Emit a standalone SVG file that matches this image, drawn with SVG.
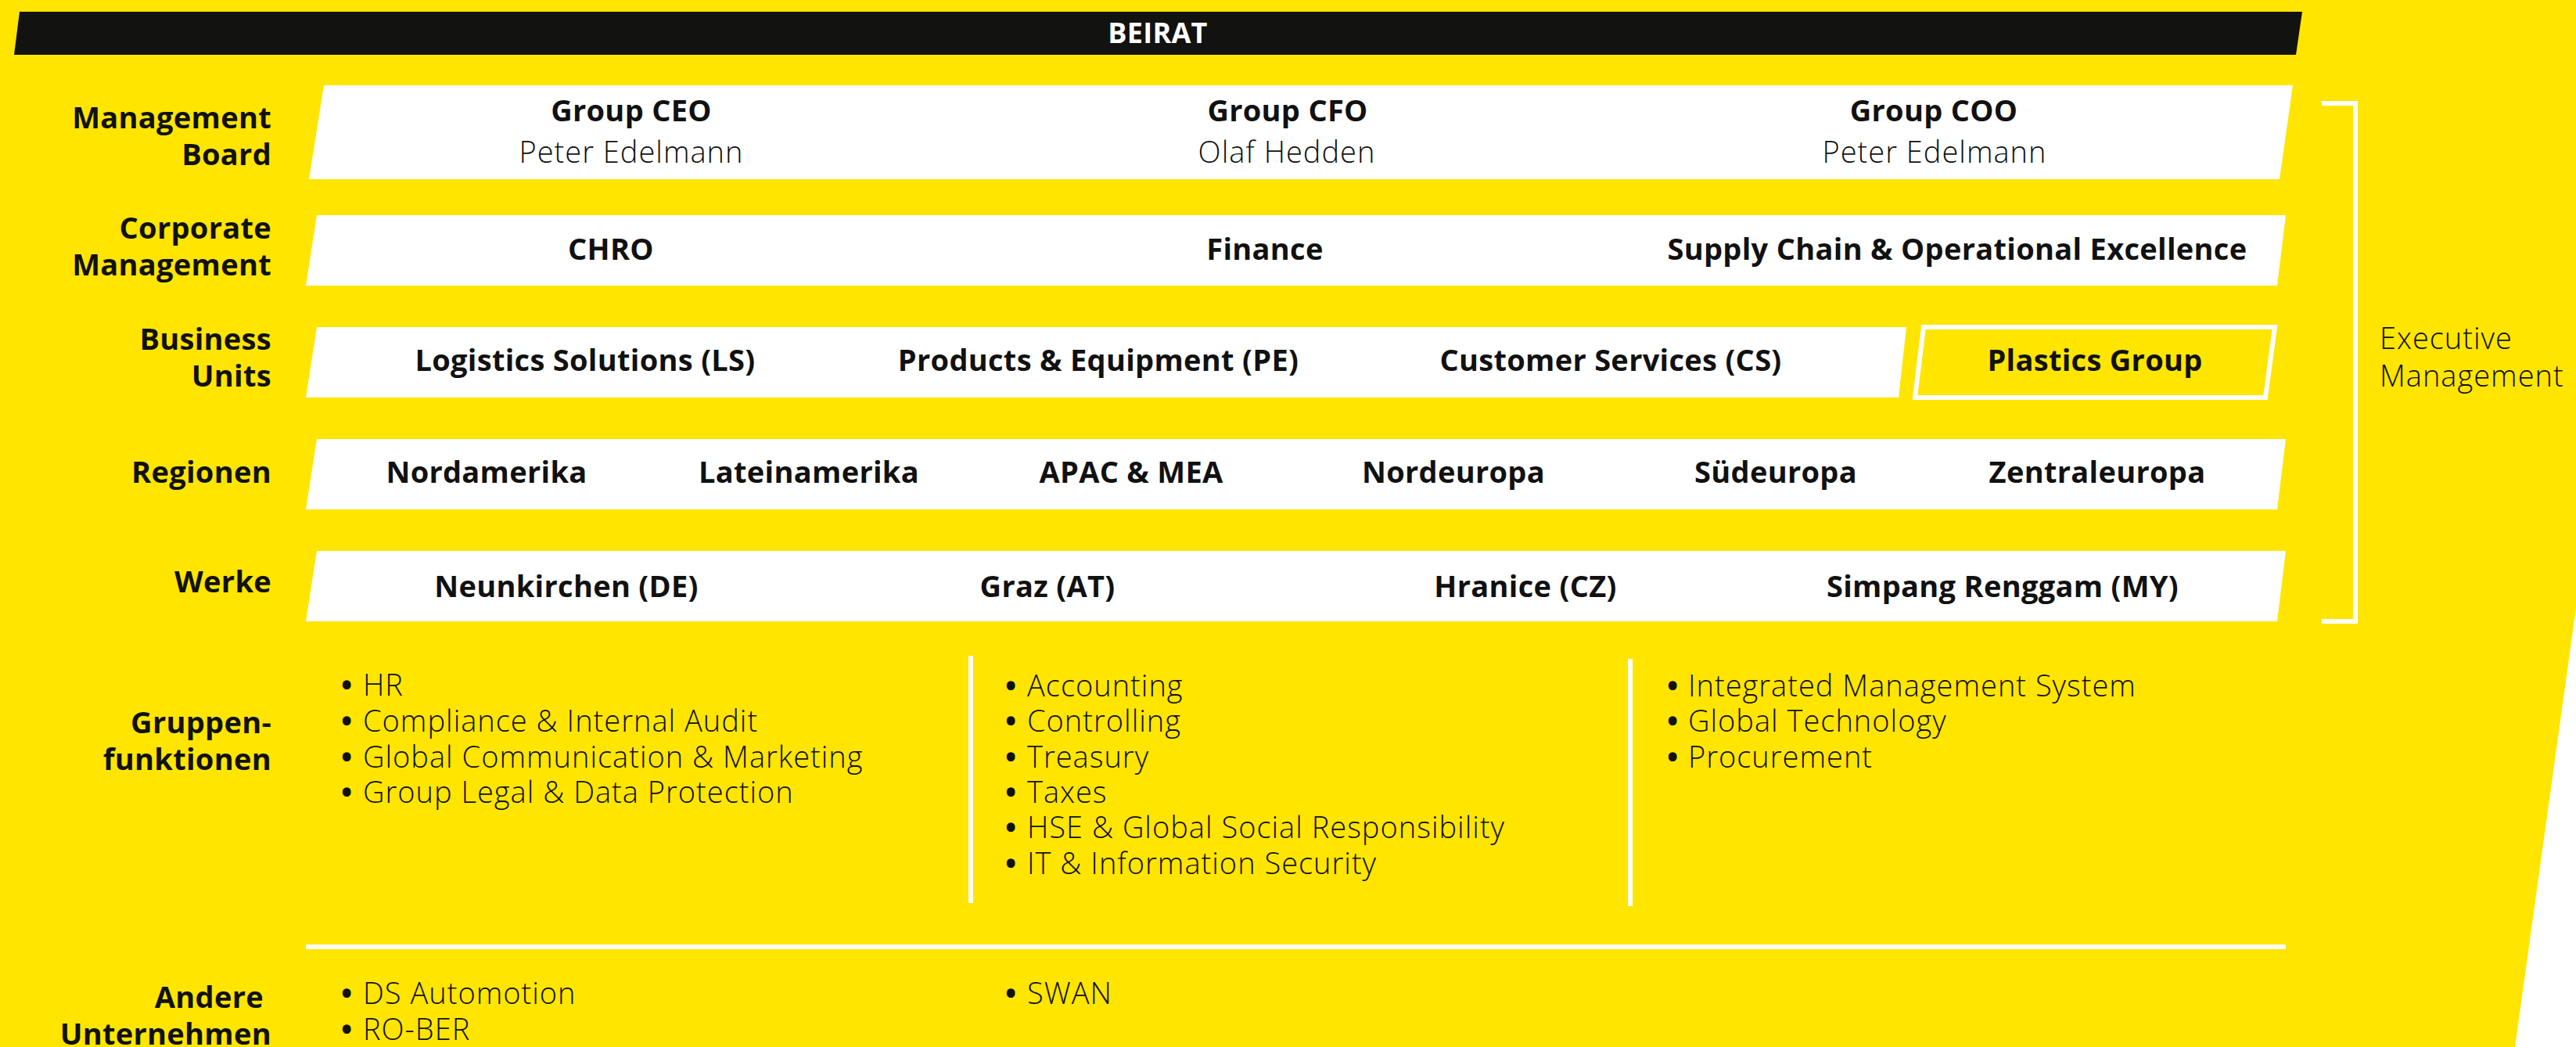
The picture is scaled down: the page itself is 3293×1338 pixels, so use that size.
<svg xmlns="http://www.w3.org/2000/svg" width="3293" height="1338" viewBox="0 0 3293 1338">
<style>
.bg{fill:#FFE500}
.box{fill:#fff}
.t{font-family:"Open Sans","Liberation Sans",sans-serif;font-size:38px;fill:#111}
.b{font-weight:700;letter-spacing:0.3px}
.l{font-weight:300;font-size:38px;letter-spacing:1px}
.d{font-weight:700;letter-spacing:0}
.end{text-anchor:end}
.mid{text-anchor:middle}
.ln{stroke:#fff;stroke-width:6;fill:none}
</style>
<rect x="0" y="0" width="3293" height="1338" fill="#fff"/>
<polygon class="bg" points="0,0 3293,0 3293,777 3215,1338 0,1338"/>

<g id="beirat">
<polygon points="25,15 2943,15 2935,70 18,70" fill="#121210"/>
<text class="t b mid" x="1480" y="55" style="fill:#fff;font-size:36px">BEIRAT</text>
</g>

<g id="row-labels">
<text class="t b end" x="347" y="164">Management</text>
<text class="t b end" x="347" y="211">Board</text>
<text class="t b end" x="347" y="305">Corporate</text>
<text class="t b end" x="347" y="352">Management</text>
<text class="t b end" x="347" y="447">Business</text>
<text class="t b end" x="347" y="494">Units</text>
<text class="t b end" x="347" y="617">Regionen</text>
<text class="t b end" x="347" y="757">Werke</text>
<text class="t b end" x="347" y="937">Gruppen-</text>
<text class="t b end" x="347" y="984">funktionen</text>
<text class="t b end" x="337" y="1288">Andere</text>
<text class="t b end" x="347" y="1335">Unternehmen</text>
</g>

<g id="management-board">
<polygon class="box" points="414,109 2931,109 2914,229 395,229"/>
<text class="t b mid" x="807" y="155">Group CEO</text>
<text class="t l mid" x="807" y="208">Peter Edelmann</text>
<text class="t b mid" x="1646" y="155">Group CFO</text>
<text class="t l mid" x="1645" y="208">Olaf Hedden</text>
<text class="t b mid" x="2472" y="155">Group COO</text>
<text class="t l mid" x="2473" y="208">Peter Edelmann</text>
</g>

<g id="corporate-management">
<polygon class="box" points="405,275 2922,275 2911,365 391,365"/>
<text class="t b mid" x="781" y="332">CHRO</text>
<text class="t b mid" x="1617" y="332">Finance</text>
<text class="t b mid" x="2502" y="332">Supply Chain &amp; Operational Excellence</text>
</g>

<g id="business-units">
<polygon class="box" points="405,418 2437,418 2427,508 391,508"/>
<text class="t b mid" x="748" y="474">Logistics Solutions (LS)</text>
<text class="t b mid" x="1404" y="474">Products &amp; Equipment (PE)</text>
<text class="t b mid" x="2059" y="474">Customer Services (CS)</text>
</g>

<g id="plastics-group">
<polygon points="2459,418 2908,418 2896,508 2448,508" fill="#FFE500" stroke="#fff" stroke-width="6"/>
<text class="t b mid" x="2678" y="474">Plastics Group</text>
</g>

<g id="regionen">
<polygon class="box" points="405,561 2922,561 2911,651 391,651"/>
<text class="t b mid" x="622" y="617">Nordamerika</text>
<text class="t b mid" x="1034" y="617">Lateinamerika</text>
<text class="t b mid" x="1446" y="617">APAC &amp; MEA</text>
<text class="t b mid" x="1858" y="617">Nordeuropa</text>
<text class="t b mid" x="2270" y="617">Südeuropa</text>
<text class="t b mid" x="2681" y="617">Zentraleuropa</text>
</g>

<g id="werke">
<polygon class="box" points="405,704 2922,704 2911,794 391,794"/>
<text class="t b mid" x="724" y="763">Neunkirchen (DE)</text>
<text class="t b mid" x="1339" y="763">Graz (AT)</text>
<text class="t b mid" x="1950" y="763">Hranice (CZ)</text>
<text class="t b mid" x="2560" y="763">Simpang Renggam (MY)</text>
</g>

<g id="executive-management">
<text class="t l" x="3042" y="446">Executive</text>
<text class="t l" x="3042" y="494">Management</text>
</g>

<g id="gruppenfunktionen-1">
<text class="t l" x="436" y="889"><tspan class="d">•</tspan><tspan x="464">HR</tspan></text>
<text class="t l" x="436" y="935"><tspan class="d">•</tspan><tspan x="464">Compliance &amp; Internal Audit</tspan></text>
<text class="t l" x="436" y="981"><tspan class="d">•</tspan><tspan x="464">Global Communication &amp; Marketing</tspan></text>
<text class="t l" x="436" y="1026"><tspan class="d">•</tspan><tspan x="464">Group Legal &amp; Data Protection</tspan></text>
</g>

<g id="gruppenfunktionen-2">
<text class="t l" x="1285" y="890"><tspan class="d">•</tspan><tspan x="1313">Accounting</tspan></text>
<text class="t l" x="1285" y="935"><tspan class="d">•</tspan><tspan x="1313">Controlling</tspan></text>
<text class="t l" x="1285" y="981"><tspan class="d">•</tspan><tspan x="1313">Treasury</tspan></text>
<text class="t l" x="1285" y="1026"><tspan class="d">•</tspan><tspan x="1313">Taxes</tspan></text>
<text class="t l" x="1285" y="1071"><tspan class="d">•</tspan><tspan x="1313">HSE &amp; Global Social Responsibility</tspan></text>
<text class="t l" x="1285" y="1117"><tspan class="d">•</tspan><tspan x="1313">IT &amp; Information Security</tspan></text>
</g>

<g id="gruppenfunktionen-3">
<text class="t l" x="2131" y="890"><tspan class="d">•</tspan><tspan x="2158">Integrated Management System</tspan></text>
<text class="t l" x="2131" y="935"><tspan class="d">•</tspan><tspan x="2158">Global Technology</tspan></text>
<text class="t l" x="2131" y="981"><tspan class="d">•</tspan><tspan x="2158">Procurement</tspan></text>
</g>

<g id="andere-unternehmen">
<text class="t l" x="436" y="1283"><tspan class="d">•</tspan><tspan x="464">DS Automotion</tspan></text>
<text class="t l" x="436" y="1329"><tspan class="d">•</tspan><tspan x="464">RO-BER</tspan></text>
<text class="t l" x="1285" y="1283"><tspan class="d">•</tspan><tspan x="1313">SWAN</tspan></text>
</g>

<g id="connectors">
<path class="ln" d="M2968,132 H3011 V794 H2968"/>
<line class="ln" x1="1241" y1="838" x2="1241" y2="1154"/>
<line class="ln" x1="2084" y1="842" x2="2084" y2="1158"/>
<line class="ln" x1="391" y1="1210" x2="2922" y2="1210"/>
</g>
</svg>
